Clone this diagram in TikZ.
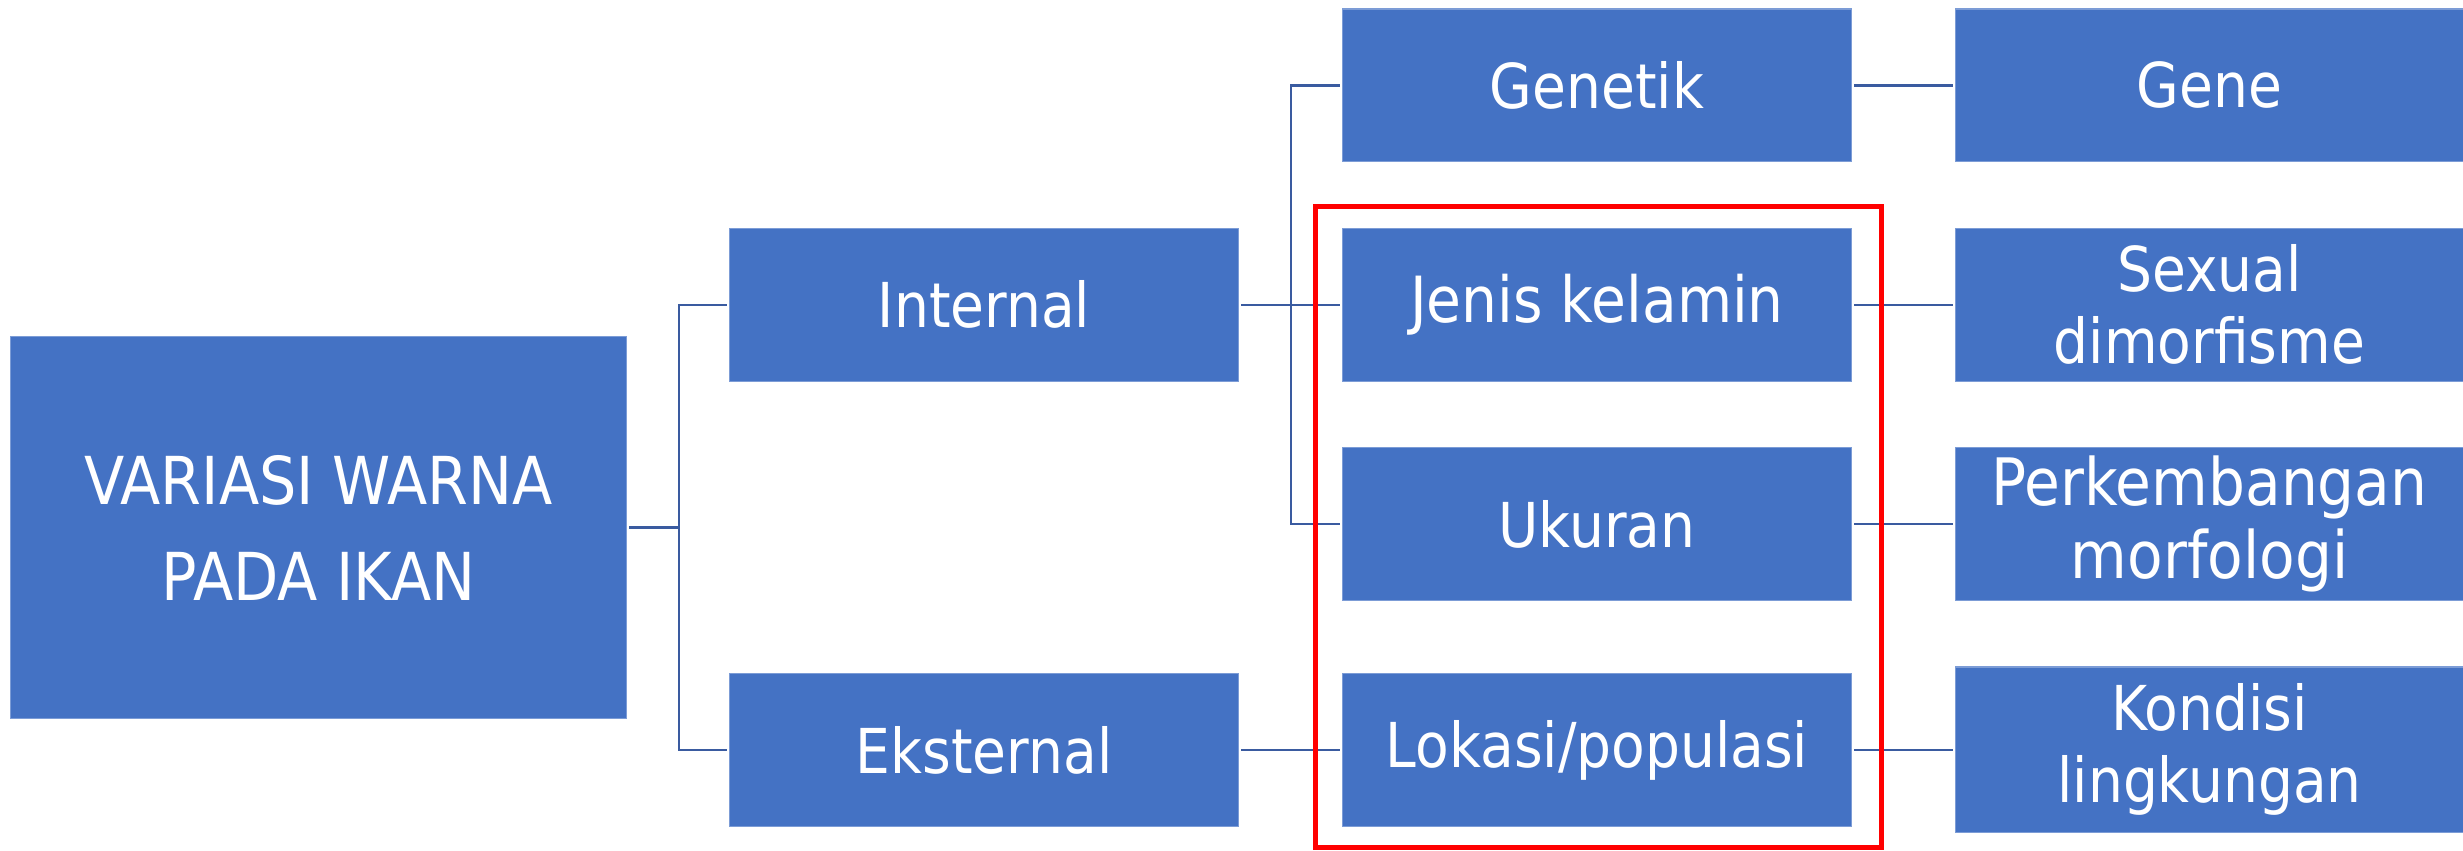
\documentclass[tikz,border=0pt]{standalone}
\usepackage{fontspec}
\setmainfont{DejaVu Sans}[FakeStretch=0.89]
\definecolor{boxblue}{HTML}{4472C4}
\definecolor{linkblue}{HTML}{3A5BA0}
\definecolor{redframe}{HTML}{FF0000}
\begin{document}
\begin{tikzpicture}[x=0.01cm,y=-0.01cm,
  box/.style={rectangle,fill=boxblue,draw=boxblue!70!white,line width=0.3pt,inner sep=0pt,outer sep=0.03cm,
    text=white,align=center,minimum width=5.08cm,minimum height=1.525cm,
    font=\fontsize{17.6}{20.5}\selectfont},
  link/.style={draw=linkblue,line width=0.025cm},
  frame/.style={draw=redframe,line width=0.05cm}]
\useasboundingbox (0,0) rectangle (2463,850);
% boxes
\node[box,minimum width=6.15cm,minimum height=3.81cm,font=\fontsize{18.8}{27.3}\selectfont] (main) at (318.5,527.5) {VARIASI WARNA\\PADA IKAN};
\node[box] (internal) at (984,304.75) {Internal};
\node[box] (eksternal) at (984,750) {Eksternal};
\node[box] (genetik) at (1597,85.25) {Genetik};
\node[box,font=\fontsize{18.1}{20.5}\selectfont] (jenis) at (1597,304.75) {Jenis kelamin};
\node[box] (ukuran) at (1597,524) {Ukuran};
\node[box] (lokasi) at (1597,750) {Lokasi/populasi};
\node[box,minimum width=5.07cm] (gene) at (2209.5,85.25) {Gene};
\node[box,minimum width=5.07cm] (sexual) at (2209.5,304.75) {Sexual\\dimorfisme};
\node[box,minimum width=5.07cm,font=\fontsize{18.6}{21}\selectfont] (perk) at (2209.5,524) {Perkembangan\\morfologi};
\node[box,minimum width=5.07cm,minimum height=1.65cm] (kondisi) at (2209.5,749.5) {Kondisi\\lingkungan};
% connectors
\coordinate (b1) at (679,527.5);
\coordinate (b2) at (1291,304.75);
\draw[link] (main.east) -- (b1);
\draw[link] (internal.west) -| (b1) |- (eksternal.west);
\draw[link] (internal.east) -- (jenis.west);
\draw[link] (genetik.west) -| (b2) |- (ukuran.west);
\draw[link] (eksternal.east) -- (lokasi.west);
\draw[link] (genetik.east) -- (gene.west);
\draw[link] (jenis.east) -- (sexual.west);
\draw[link] (ukuran.east) -- (perk.west);
\draw[link] (lokasi.east) -- (kondisi.west |- lokasi.east);
% red highlight frame
\node[frame,rectangle,inner sep=0pt,minimum width=5.65cm,minimum height=6.40cm] (hl) at (1598.5,527) {};
\end{tikzpicture}
\end{document}
